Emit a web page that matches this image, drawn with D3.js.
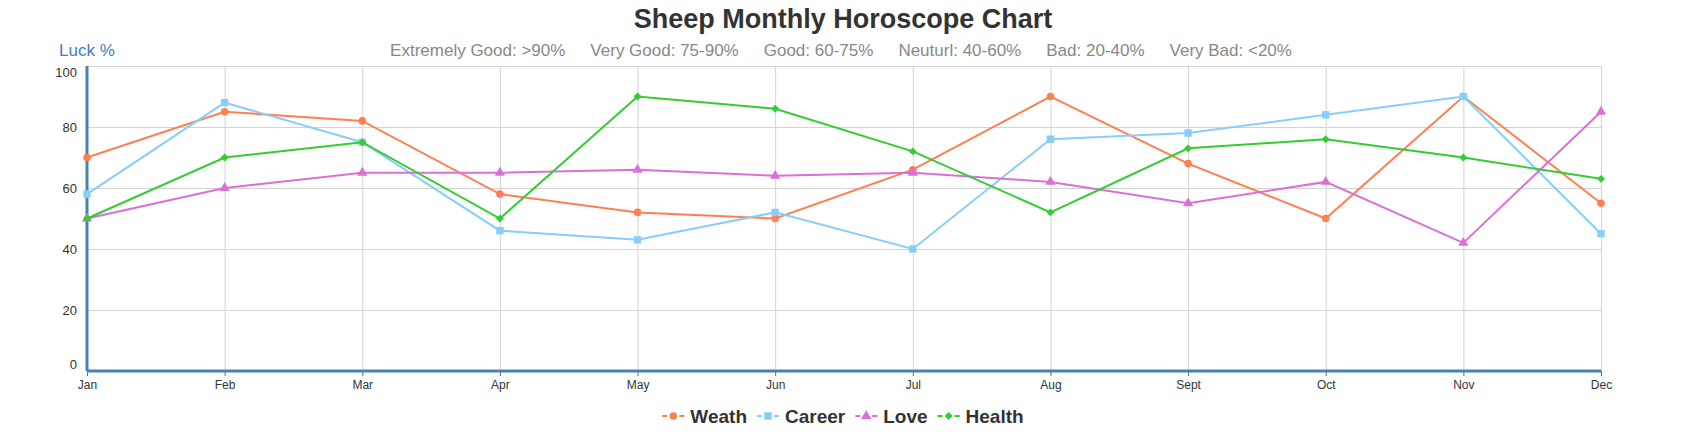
<!DOCTYPE html>
<html>
<head>
<meta charset="utf-8">
<script src="https://cdn.jsdelivr.net/npm/d3@7"></script>
<style>
  body { margin: 0; background: #fff; }
  svg { display: block; font-family: "Liberation Sans", Arial, sans-serif; }
  .grid line { stroke: #d3d3d3; stroke-width: 1; }
  .grid path { display: none; }
</style>
</head>
<body>
<div id="chart"></div>
<script>
var width = 1687,
    height = 436;

var months = ["Jan", "Feb", "Mar", "Apr", "May", "Jun", "Jul", "Aug", "Sept", "Oct", "Nov", "Dec"];
var yTicks = [0, 20, 40, 60, 80, 100];
var levels = ["Extremely Good: >90%", "Very Good: 75-90%", "Good: 60-75%", "Neuturl: 40-60%", "Bad: 20-40%", "Very Bad: <20%"];

var weath  = [70, 85, 82, 58, 52, 50, 66, 90, 68, 50, 90, 55];
var career = [58, 88, 75, 46, 43, 52, 40, 76, 78, 84, 90, 45];
var love   = [50, 60, 65, 65, 66, 64, 65, 62, 55, 62, 42, 85];
var health = [50, 70, 75, 50, 90, 86, 72, 52, 73, 76, 70, 63];

var seriesNames = ["Weath", "Career", "Love", "Health"];
var seriesColors = ["#ff7f50", "#87cefa", "#da70d6", "#32cd32"];
var seriesSymbols = [d3.symbolCircle, d3.symbolSquare, d3.symbolTriangle, d3.symbolDiamond2];
var symbolSizes = [45, 55, 45, 40];

var series = [weath, career, love, health].map(function(vals, i) {
  return { name: seriesNames[i], values: vals, color: seriesColors[i], symbol: seriesSymbols[i], size: symbolSizes[i] };
});

var margin = { top: 66, right: 86, bottom: 65, left: 87 };
var plotW = width - margin.left - margin.right,
    plotH = height - margin.top - margin.bottom;

var x = d3.scalePoint()
    .domain(months)
    .range([0, plotW]);

var y = d3.scaleLinear()
    .domain([0, 100])
    .range([plotH, 0]);

var svg = d3.select("#chart").append("svg")
    .attr("width", width)
    .attr("height", height);

// title
svg.append("text")
    .attr("x", 843)
    .attr("y", 28)
    .attr("text-anchor", "middle")
    .attr("font-size", 27)
    .attr("font-weight", "bold")
    .attr("fill", "#333")
    .text("Sheep Monthly Horoscope Chart");

svg.append("text")
    .attr("x", 59)
    .attr("y", 56)
    .attr("font-size", 17)
    .attr("fill", "#3f7fbf")
    .text("Luck %");

// level descriptions, laid out in a row
var lv = svg.append("g");
var lvText = lv.selectAll("text")
  .data(levels)
  .enter().append("text")
    .attr("y", 56)
    .attr("font-size", 17)
    .attr("fill", "#888")
    .text(function(d) { return d; });
var cx = 0;
lvText.each(function() {
  d3.select(this).attr("x", cx);
  cx += this.getComputedTextLength() + 25;
});
lv.attr("transform", "translate(" + (841 - (cx - 25) / 2) + ",0)");

var g = svg.append("g")
    .attr("transform", "translate(" + margin.left + "," + margin.top + ")");

// grid
g.append("g")
    .attr("class", "grid")
    .call(d3.axisLeft(y).tickValues(yTicks).tickSize(-plotW).tickFormat(""));

g.append("g")
    .attr("class", "grid")
    .attr("transform", "translate(0," + plotH + ")")
    .call(d3.axisBottom(x).tickSize(-plotH).tickFormat(""));

// y axis labels
var yAxis = g.append("g")
    .call(d3.axisLeft(y).tickValues(yTicks).tickSize(0).tickPadding(10));
yAxis.select(".domain").remove();
yAxis.selectAll("text")
    .attr("font-size", 13)
    .attr("fill", "#333")
    .attr("font-family", "Liberation Sans, Arial, sans-serif")
    .attr("y", function(d) { return d === 100 ? 6 : (d === 0 ? -7 : 0); });

// x axis
var xAxis = g.append("g")
    .attr("transform", "translate(0," + plotH + ")")
    .call(d3.axisBottom(x).tickSize(5).tickPadding(4));
xAxis.select(".domain").remove();
xAxis.selectAll("line").attr("stroke", "#666");
xAxis.selectAll("text")
    .attr("font-size", 12)
    .attr("fill", "#333")
    .attr("font-family", "Liberation Sans, Arial, sans-serif");

// blue axis lines
g.append("line")
    .attr("x1", 0).attr("x2", 0)
    .attr("y1", 0).attr("y2", plotH)
    .attr("stroke", "#4682b4")
    .attr("stroke-width", 3);
g.append("line")
    .attr("x1", 0).attr("x2", plotW)
    .attr("y1", plotH).attr("y2", plotH)
    .attr("stroke", "#4682b4")
    .attr("stroke-width", 3);

// lines
var line = d3.line()
    .x(function(d, i) { return x(months[i]); })
    .y(function(d) { return y(d); });

series.forEach(function(s) {
  g.append("path")
      .datum(s.values)
      .attr("fill", "none")
      .attr("stroke", s.color)
      .attr("stroke-width", 2)
      .attr("d", line);

  g.selectAll(null)
      .data(s.values)
      .enter().append("path")
      .attr("transform", function(d, i) { return "translate(" + x(months[i]) + "," + y(d) + ")"; })
      .attr("d", d3.symbol().type(s.symbol).size(s.size))
      .attr("fill", s.color);
});

// legend
var legend = svg.append("g");
var lx = 0;
series.forEach(function(s) {
  var item = legend.append("g").attr("transform", "translate(" + lx + ",0)");
  item.append("line")
      .attr("x1", 0).attr("x2", 22)
      .attr("y1", 0).attr("y2", 0)
      .attr("stroke", s.color)
      .attr("stroke-width", 2)
      .attr("stroke-dasharray", "5,12,5");
  item.append("path")
      .attr("transform", "translate(11,0)")
      .attr("d", d3.symbol().type(s.symbol).size(s.size))
      .attr("fill", s.color);
  var t = item.append("text")
      .attr("x", 28)
      .attr("y", 7)
      .attr("font-size", 19)
      .attr("font-weight", "bold")
      .attr("fill", "#333")
      .text(s.name);
  lx += 28 + t.node().getComputedTextLength() + 10;
});
legend.attr("transform", "translate(" + (843 - (lx - 10) / 2) + ",416)");
</script>
</body>
</html>
